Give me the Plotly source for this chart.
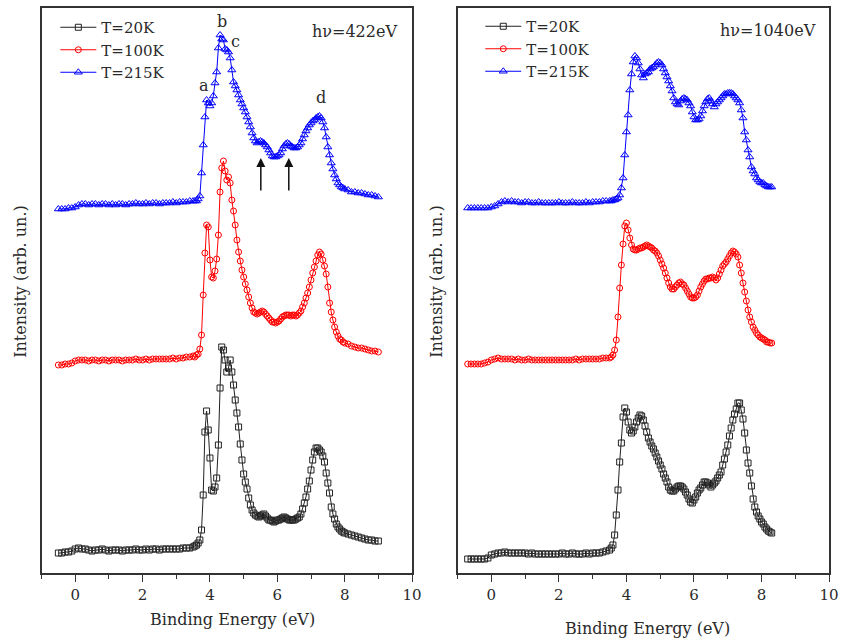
import plotly.graph_objects as go

# ---------------- energy grids (eV) ----------------
energy_left = ([round(-0.5 + 0.1 * i, 2) for i in range(41)]
               + [round(3.55 + 0.05 * i, 2) for i in range(90)]
               + [round(8.1 + 0.1 * i, 2) for i in range(10)])
energy_right = ([round(-0.7 + 0.1 * i, 2) for i in range(43)]
                + [round(3.55 + 0.05 * i, 2) for i in range(96)])

# ---------------- hv = 422 eV (offset curves, arb. units) ----------------
left_215K = [363, 363, 363, 364, 364, 365, 367, 368,
             368, 367, 368, 368, 367, 368, 368, 367, 368, 367, 368, 368, 367, 368, 368, 369, 368,
             368, 369, 368, 369, 369, 368, 369, 369, 369, 370, 369, 370, 370, 370, 371, 371,
             371, 371, 373, 376, 399, 427, 455, 472, 469, 466,
             469, 476, 489, 500, 524, 537, 533, 532, 523, 522,
             520, 514, 502, 490, 486, 482, 477, 472, 468, 464,
             460, 455, 450, 445, 439, 434, 431, 429, 430, 431,
             430, 429, 427, 425, 422, 419, 416, 415, 415, 416,
             417, 419, 423, 426, 428, 429, 428, 426, 425, 424,
             424, 425, 427, 429, 433, 437, 441, 444, 447, 449,
             451, 452, 454, 455, 456, 454, 450, 444, 435, 425,
             417, 409, 403, 397, 393, 389, 387, 385, 384, 383,
             382, 380, 380, 379, 379, 378, 377, 377, 376, 375]
left_100K = [207, 207, 208, 208, 209, 211, 212, 212,
             212, 211, 212, 212, 211, 212, 212, 211, 212, 212, 212, 211, 212, 212, 212, 213, 212,
             212, 213, 212, 213, 213, 213, 213, 213, 213, 214, 213, 214, 214, 215, 215, 216,
             215, 217, 218, 223, 237, 277, 319, 347, 345, 312,
             295, 294, 301, 313, 337, 380, 404, 411, 401, 392,
             395, 389, 372, 361, 347, 332, 320, 311, 302, 295,
             288, 282, 275, 269, 264, 260, 259, 258, 259, 260,
             261, 260, 258, 256, 254, 252, 250, 250, 249, 250,
             251, 253, 255, 256, 257, 257, 257, 256, 257, 257,
             256, 257, 259, 261, 265, 269, 274, 279, 285, 292,
             299, 305, 311, 317, 320, 318, 312, 306, 298, 285,
             269, 260, 252, 245, 240, 236, 233, 232, 230, 229,
             228, 226, 225, 224, 224, 223, 222, 221, 221, 220]
left_20K = [19, 19, 20, 20, 21, 23, 24, 23,
            23, 22, 21, 22, 22, 23, 22, 21, 22, 22, 22, 21, 22, 22, 22, 23, 22,
            22, 23, 22, 23, 23, 22, 23, 23, 23, 23, 23, 23, 24, 24, 24, 25,
            26, 27, 29, 32, 42, 77, 140, 161, 142, 114,
            82, 81, 85, 94, 127, 184, 225, 222, 212, 200,
            204, 212, 200, 187, 172, 159, 145, 128, 112, 98,
            90, 83, 74, 67, 62, 59, 57, 56, 55, 56,
            57, 58, 56, 54, 52, 52, 51, 50, 51, 52,
            52, 53, 54, 55, 54, 53, 52, 52, 52, 52,
            53, 54, 55, 58, 63, 69, 75, 83, 91, 102,
            112, 120, 124, 124, 122, 120, 116, 110, 99, 89,
            79, 65, 58, 53, 48, 45, 43, 41, 40, 39,
            38, 37, 36, 35, 34, 33, 32, 32, 31, 31]

# ---------------- hv = 1040 eV ----------------
right_215K = [364, 364, 364, 364, 364, 364, 364, 365, 366, 368, 370, 371,
              370, 371, 370, 370, 369, 370, 370, 369, 369, 370, 369, 369, 369, 369, 369, 370,
              369, 369, 369, 370, 369, 369, 369, 370, 369, 370, 370, 370, 371, 371, 371,
              371, 372, 372, 373, 374, 377, 384, 394, 417, 440,
              457, 482, 498, 510, 516, 514, 509, 503, 497, 494,
              498, 499, 500, 503, 504, 505, 507, 509, 510, 509,
              507, 503, 499, 495, 491, 486, 481, 474, 470, 468,
              467, 471, 473, 474, 473, 472, 469, 466, 460, 455,
              452, 452, 453, 456, 461, 466, 470, 473, 474, 471,
              468, 465, 468, 470, 472, 474, 476, 478, 478, 479,
              479, 479, 478, 476, 474, 472, 469, 462, 454, 440,
              432, 422, 415, 405, 401, 398, 394, 392, 390, 389,
              389, 387, 386, 385, 385, 385]
right_100K = [208, 208, 208, 208, 208, 209, 210, 212, 213, 214, 213, 213,
              213, 213, 212, 213, 212, 212, 213, 212, 212, 212, 212, 212, 212, 212, 212,
              212, 212, 212, 212, 212, 213, 212, 213, 213, 213, 213, 213, 213, 214, 214, 214,
              215, 217, 222, 232, 255, 284, 307, 328, 346, 349,
              342, 334, 327, 323, 322, 322, 323, 324, 324, 325,
              326, 327, 326, 325, 324, 322, 321, 319, 316, 312,
              308, 304, 299, 294, 289, 285, 283, 283, 285, 287,
              289, 290, 288, 287, 284, 281, 278, 275, 274, 274,
              275, 277, 281, 285, 288, 291, 293, 293, 294, 294,
              295, 294, 292, 294, 298, 302, 306, 308, 310, 313,
              316, 319, 321, 320, 318, 315, 307, 299, 289, 280,
              271, 262, 255, 250, 245, 242, 239, 237, 235, 234,
              233, 232, 230, 230, 229, 229]
right_20K = [13, 13, 13, 13, 13, 13, 14, 17, 18, 19, 19, 20, 19,
             19, 19, 19, 19, 19, 18, 19, 18, 18, 18, 18, 18, 18, 18, 18, 19, 18,
             18, 19, 18, 18, 18, 19, 18, 19, 19, 19, 20, 21, 22,
             24, 27, 37, 57, 82, 110, 129, 155, 164, 160,
             150, 142, 139, 141, 145, 150, 154, 157, 156, 152,
             146, 140, 134, 130, 126, 123, 119, 115, 111, 107,
             103, 98, 94, 90, 85, 82, 81, 81, 83, 85,
             86, 86, 85, 83, 80, 77, 73, 70, 69, 72,
             75, 79, 82, 84, 87, 90, 90, 89, 87, 85,
             87, 89, 91, 94, 97, 100, 107, 113, 120, 127,
             136, 144, 152, 158, 163, 169, 169, 162, 153, 139,
             122, 109, 99, 86, 73, 65, 60, 56, 53, 50,
             48, 45, 43, 41, 40, 39]

series_names = ["T=20K", "T=100K", "T=215K"]
series_colors = ["#222222", "#ff0000", "#0000ff"]
series_symbols = ["square-open", "circle-open", "triangle-up-open"]
series_sizes = [6, 6, 7]

panel_labels = ["hν=422eV", "hν=1040eV"]
peak_labels = ["a", "b", "c", "d"]
peak_x = [3.82, 4.37, 4.76, 7.30]
peak_y = [486, 550, 530, 474]
arrow_x = [5.51, 6.34]
arrow_y0 = [380, 380]
arrow_y1 = [414, 414]

FONT = "DejaVu Serif"
TXT = "#2a2a2a"

fig = go.Figure()
left_sets = [left_20K, left_100K, left_215K]
right_sets = [right_20K, right_100K, right_215K]

for i in range(3):
    fig.add_trace(go.Scatter(
        x=energy_left, y=left_sets[i], mode="lines+markers", name=series_names[i],
        line=dict(color=series_colors[i], width=1),
        marker=dict(symbol=series_symbols[i], size=series_sizes[i], color=series_colors[i],
                    line=dict(width=1, color=series_colors[i])),
        xaxis="x", yaxis="y", legend="legend"))
for i in range(3):
    fig.add_trace(go.Scatter(
        x=energy_right, y=right_sets[i], mode="lines+markers", name=series_names[i],
        line=dict(color=series_colors[i], width=1),
        marker=dict(symbol=series_symbols[i], size=series_sizes[i], color=series_colors[i],
                    line=dict(width=1, color=series_colors[i])),
        xaxis="x2", yaxis="y2", legend="legend2"))

axis_common = dict(showline=True, linecolor="#333333", linewidth=1.5, mirror=True,
                   showgrid=False, zeroline=False)
xcommon = dict(axis_common, range=[-1, 10], dtick=2, tick0=0, ticks="outside", ticklen=7,
               tickwidth=1.2, tickcolor="#333333",
               tickfont=dict(family=FONT, size=15, color=TXT),
               minor=dict(dtick=1, tick0=0, ticks="outside", ticklen=4, tickwidth=1.2,
                          tickcolor="#333333"))
ycommon = dict(axis_common, range=[-1, 564], showticklabels=False, ticks="")

legend_common = dict(font=dict(family=FONT, size=15, color=TXT), bgcolor="rgba(0,0,0,0)",
                     borderwidth=0, yanchor="top", xanchor="left", tracegroupgap=0,
                     itemwidth=36, traceorder="normal")

fig.update_layout(
    width=849, height=640, margin=dict(l=0, r=0, t=0, b=0),
    paper_bgcolor="white", plot_bgcolor="white",
    font=dict(family=FONT, size=16, color=TXT),
    xaxis=dict(xcommon, domain=[42 / 849, 417 / 849], anchor="y"),
    yaxis=dict(ycommon, domain=[67 / 640, 632 / 640], anchor="x"),
    xaxis2=dict(xcommon, domain=[463 / 849, 839 / 849], anchor="y2"),
    yaxis2=dict(ycommon, domain=[67 / 640, 632 / 640], anchor="x2"),
    legend=dict(legend_common, x=56 / 849, y=1 - 11 / 640),
    legend2=dict(legend_common, x=486 / 849, y=1 - 10 / 640),
)

ann = []
ann.append(dict(text=panel_labels[0], xref="paper", yref="paper", x=404 / 849, y=1 - 31 / 640,
                xanchor="right", yanchor="middle", showarrow=False,
                font=dict(family=FONT, size=16, color=TXT)))
ann.append(dict(text=panel_labels[1], xref="paper", yref="paper", x=828 / 849, y=1 - 30 / 640,
                xanchor="right", yanchor="middle", showarrow=False,
                font=dict(family=FONT, size=16, color=TXT)))
for lab, px_, py_ in zip(peak_labels, peak_x, peak_y):
    ann.append(dict(text=lab, xref="x", yref="y", x=px_, y=py_, showarrow=False,
                    xanchor="center", yanchor="middle",
                    font=dict(family=FONT, size=16, color=TXT)))
for axx, y0, y1 in zip(arrow_x, arrow_y0, arrow_y1):
    ann.append(dict(text="", xref="x", yref="y", x=axx, y=y1, axref="x", ayref="y",
                    ax=axx, ay=y0, showarrow=True, arrowhead=2, arrowsize=1.2,
                    arrowwidth=1.5, arrowcolor="#111111"))
# axis titles
ann.append(dict(text="Binding Energy (eV)", xref="paper", yref="paper", x=235.5 / 849,
                y=1 - 619 / 640, xanchor="center", yanchor="middle", showarrow=False,
                font=dict(family=FONT, size=16, color=TXT)))
ann.append(dict(text="Binding Energy (eV)", xref="paper", yref="paper", x=655 / 849,
                y=1 - 628 / 640, xanchor="center", yanchor="middle", showarrow=False,
                font=dict(family=FONT, size=16, color=TXT)))
ann.append(dict(text="Intensity (arb. un.)", xref="paper", yref="paper", x=20 / 849,
                y=1 - 281 / 640, xanchor="center", yanchor="middle", textangle=-90,
                showarrow=False, font=dict(family=FONT, size=16, color=TXT)))
ann.append(dict(text="Intensity (arb. un.)", xref="paper", yref="paper", x=441 / 849,
                y=1 - 281 / 640, xanchor="center", yanchor="middle", textangle=-90,
                showarrow=False, font=dict(family=FONT, size=16, color=TXT)))
fig.update_layout(annotations=ann)

fig.write_html("out.html", config={"displayModeBar": False},
               post_script="document.body.style.margin='0';document.body.style.padding='0';"
                           "document.body.style.overflow='hidden';")
